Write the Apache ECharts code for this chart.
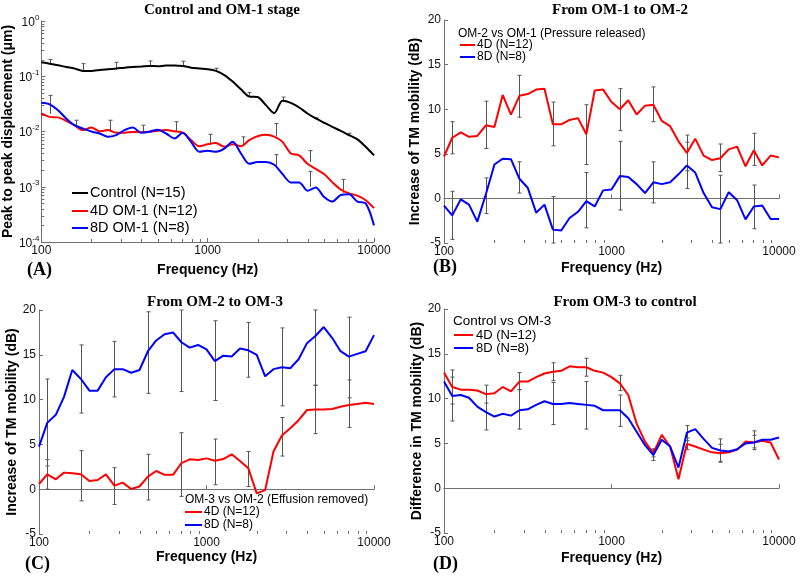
<!DOCTYPE html>
<html><head><meta charset="utf-8">
<script src="https://cdn.jsdelivr.net/npm/echarts@6/dist/echarts.min.js"></script>
<style>html,body{margin:0;padding:0;background:#fff}#c{width:800px;height:577px}</style>
</head><body><div id="c"></div><script>
// ---------- data ----------
const freqs = [100,112,126,141,158,178,200,224,251,282,316,355,398,447,501,562,631,708,794,891,1000,1122,1259,1413,1585,1778,1995,2239,2512,2818,3162,3548,3981,4467,5012,5623,6310,7079,7943,8913,10000];
const xTickLabels = [100, 1000, 10000];
const minorX = [200,300,400,500,600,700,800,900,2000,3000,4000,5000,6000,7000,8000,9000];
const minorYA = [0.0002,0.0003,0.0004,0.0005,0.0006,0.0007,0.0008,0.0009,0.002,0.003,0.004,0.005,0.006,0.007,0.008,0.009,0.02,0.03,0.04,0.05,0.06,0.07,0.08,0.09,0.2,0.3,0.4,0.5,0.6,0.7,0.8,0.9];

// Panel A: peak-to-peak displacement (um)
const aControl = [0.179,0.169,0.158,0.147,0.138,0.125,0.125,0.130,0.134,0.138,0.143,0.147,0.150,0.154,0.152,0.156,0.156,0.154,0.143,0.138,0.134,0.125,0.105,0.080,0.058,0.043,0.042,0.030,0.0215,0.036,0.033,0.0272,0.0212,0.0172,0.0144,0.0121,0.0103,0.0086,0.0072,0.0053,0.0037];
const aRed = [0.0212,0.0184,0.018,0.0156,0.013,0.0106,0.0118,0.0101,0.0106,0.0095,0.0095,0.0098,0.0097,0.0099,0.0103,0.0106,0.0101,0.0095,0.007,0.0054,0.0059,0.0062,0.0053,0.0059,0.0054,0.007,0.0082,0.0087,0.0081,0.0065,0.004,0.0037,0.0026,0.0021,0.0017,0.0012,0.00089,0.00076,0.00069,0.00057,0.00041];
const aBlue = [0.033,0.031,0.0243,0.0172,0.013,0.0113,0.010,0.0092,0.008,0.0086,0.0106,0.0118,0.0095,0.0099,0.0108,0.0092,0.0075,0.0095,0.0065,0.0043,0.0045,0.0043,0.0049,0.0065,0.004,0.0026,0.0028,0.0028,0.0025,0.0017,0.0012,0.0012,0.00085,0.00097,0.00065,0.00054,0.00071,0.00073,0.00054,0.0005,0.0002];
const aErrBlack = [[113,0.168,0.2],[178,0.125,0.169],[282,0.131,0.179],[447,0.154,0.189],[708,0.155,0.187],[1122,0.125,0.14],[1778,0.045,0.0507],[2818,0.036,0.042],[4467,0.0165,0.0177],[7079,0.0087,0.0093]];
const aErrOM = [[113,0.021,0.045],[162,0.012,0.016],[259,0.0098,0.016],[410,0.0097,0.013],[649,0.0098,0.015],[1034,0.0058,0.0089],[1637,0.0055,0.008],[2592,0.0082,0.014],[2592,0.0022,0.0038],[4106,0.0028,0.0045],[4106,0.001,0.0019],[6550,0.00078,0.00136]];

// Panel B: OM-2 vs OM-1 (dB)
const bRed = [4.7,6.8,7.4,6.9,7.0,8.2,8.0,11.6,9.4,11.5,11.7,12.2,12.3,8.3,8.3,8.8,9.0,7.2,12.1,12.2,10.8,10.0,11.0,9.4,10.4,10.5,8.7,8.1,6.4,5.1,6.7,4.8,4.3,4.5,5.5,5.8,3.6,5.4,3.7,4.8,4.6];
const bBlue = [-0.8,-1.9,-0.1,-0.7,-2.6,0.5,3.8,4.45,4.4,2.2,1.2,-1.6,-0.7,-3.5,-3.6,-2.2,-1.5,-0.3,-0.9,0.9,1.0,2.5,2.4,1.6,0.6,1.8,1.6,1.8,2.7,3.7,2.9,0.6,-1.0,-1.2,0.7,-0.2,-2.35,-0.9,-0.8,-2.3,-2.3];
const bErrRed = [[112,5.0,8.6],[178,5.6,10.9],[282,9.1,13.8],[447,5.9,10.8],[708,3.8,10.5],[1122,7.6,12.3],[1778,8.6,12.5],[2818,3.1,7.1],[4467,3.0,6.1],[7079,3.7,7.3]];
const bErrBlue = [[112,-4.6,0.8],[178,-1.7,2.3],[282,0.6,4.1],[447,-5,0.2],[708,-3.3,2.9],[1122,-1.3,6.4],[1778,-0.5,4.1],[2818,1.1,6.3],[4467,-5,2.6],[7079,-3.4,1.5]];

// Panel C: OM-3 vs OM-2 (dB)
const cRed = [0.58,1.66,1.1,1.85,1.77,1.66,0.92,1.03,1.66,0.4,0.73,0.03,0.3,1.4,2.03,1.6,1.6,2.9,3.33,3.26,3.44,3.18,3.37,3.9,3.15,2.33,-0.46,-0.1,4.2,6.0,6.8,7.7,8.84,8.9,8.9,8.95,9.2,9.4,9.5,9.66,9.5];
const cBlue = [4.75,7.4,8.3,10.3,13.3,12.3,11.0,11.0,12.5,13.4,13.4,13.0,13.3,15.4,16.6,17.3,17.5,16.4,15.8,16.1,15.6,14.3,14.9,14.8,15.7,15.5,15.0,12.6,13.4,13.6,13.5,14.5,16.3,17.1,18.1,16.9,15.4,14.8,15.1,15.4,17.2];
const cErrRed = [[112,0,3.3],[178,-1.3,4.3],[282,-1.7,2.4],[447,-1.2,3.9],[708,-0.8,6.3],[1122,0.5,5.6],[1778,0.3,4.2],[2818,3.7,8.0],[4467,6.2,11.6],[7079,6.9,12.2]];
const cErrBlue = [[112,2.6,12.3],[178,8.5,16.1],[282,10.3,16.5],[447,10.7,19.8],[708,10.9,20],[1122,9.9,18.8],[1778,12.5,18.6],[2818,9.3,18.0],[4467,11.6,20],[7079,10.2,19.2]];

// Panel D: Control vs OM-3 (dB)
const dRed = [12.9,11.3,11.0,11.0,10.9,10.5,10.6,11.3,10.8,11.9,11.9,12.4,12.8,13.0,13.1,13.6,13.5,13.5,13.1,12.9,12.4,11.7,10.4,7.2,5.2,3.9,5.95,4.65,1.0,4.95,4.65,4.3,4.0,3.9,4.0,4.3,5.2,5.1,5.3,5.1,3.2];
const dBlue = [11.9,10.3,10.4,10.1,9.1,8.5,8.0,8.3,8.1,8.7,8.8,9.3,9.7,9.4,9.4,9.5,9.4,9.3,9.2,8.7,8.7,8.7,7.8,6.3,4.8,3.7,5.4,4.65,2.3,6.2,6.6,5.5,4.5,4.2,4.1,4.35,5.0,5.1,5.4,5.4,5.65];
const dErrRed = [[112,9.4,12.4],[178,9.5,11.5],[282,11.0,12.9],[447,12.0,14.0],[708,12.5,14.5],[1122,10.9,12.6],[1778,3.5,4.4],[2818,4.3,5.6],[4467,3.0,4.9],[7079,4.3,5.9]];
const dErrBlue = [[112,7.5,13.2],[178,6.5,10.5],[282,6.6,11.0],[447,7.1,11.8],[708,6.6,11.9],[1122,6.9,10.4],[1778,3.1,4.3],[2818,5.3,7.0],[4467,2.9,5.5],[7079,4.5,6.4]];

// ---------- helpers ----------
const RED = '#ff0000', BLUE = '#0000ff', BLACK = '#000000', AX = '#707070', ERR = '#555555';
const SANS = 'Liberation Sans, Arial, sans-serif', SERIF = 'Liberation Serif, Times New Roman, serif';
const pair = vals => freqs.map((f, i) => [f, vals[i]]);

function xAxis(idx, gap) {
  return {
    type: 'log', logBase: 10, gridIndex: idx, min: 100, max: 10000,
    name: 'Frequency (Hz)', nameLocation: 'middle', nameGap: gap,
    nameTextStyle: {fontFamily: SANS, fontWeight: 'bold', fontSize: 14, color: '#000'},
    axisLine: {lineStyle: {color: AX, width: 1}},
    axisTick: {inside: true, length: 4, lineStyle: {color: AX}},
    axisLabel: {fontFamily: SANS, fontSize: 12, color: '#111', margin: 3,
      formatter: v => (xTickLabels.indexOf(Math.round(v)) >= 0 ? String(Math.round(v)) : '')},
    splitLine: {show: false}
  };
}
function yAxisLin(idx, name, gap) {
  return {
    type: 'value', gridIndex: idx, min: -5, max: 20, interval: 5,
    name, nameLocation: 'middle', nameGap: gap,
    nameTextStyle: {fontFamily: SANS, fontWeight: 'bold', fontSize: 14, color: '#000'},
    axisLine: {show: true, lineStyle: {color: AX, width: 1}},
    axisTick: {show: true, inside: true, length: 4, lineStyle: {color: AX}},
    axisLabel: {fontFamily: SANS, fontSize: 12, color: '#111', margin: 3},
    splitLine: {show: false}
  };
}
function lineSeries(idx, data, color, smooth) {
  return {type: 'line', xAxisIndex: idx, yAxisIndex: idx, data: pair(data), showSymbol: false,
    smooth: smooth || false, lineStyle: {color, width: 2}, itemStyle: {color}, z: 5, animation: false, silent: true};
}
function errSeries(idx, data, both) {
  return {type: 'custom', xAxisIndex: idx, yAxisIndex: idx, data, z: 3, silent: true, animation: false,
    encode: {x: 0, y: [1, 2]},
    renderItem: (params, api) => {
      const x = api.value(0), lo = api.value(1), hi = api.value(2);
      const p1 = api.coord([x, lo]), p2 = api.coord([x, hi]);
      const st = {stroke: ERR, lineWidth: 1};
      const cx = Math.round(p1[0]) + 0.5, w = 2;
      const ch = [
        {type: 'line', shape: {x1: cx, y1: p1[1], x2: cx, y2: p2[1]}, style: st},
        {type: 'line', shape: {x1: cx - w, y1: p2[1], x2: cx + w, y2: p2[1]}, style: st}
      ];
      if (both) ch.push({type: 'line', shape: {x1: cx - w, y1: p1[1], x2: cx + w, y2: p1[1]}, style: st});
      return {type: 'group', children: ch};
    }};
}
function tickSeries(idx, yMin, yMinor) {
  return {type: 'custom', xAxisIndex: idx, yAxisIndex: idx, data: [[100, yMin]], z: 2, silent: true, animation: false,
    renderItem: (params, api) => {
      const st = {stroke: AX, lineWidth: 1};
      const ch = [];
      minorX.forEach(f => {
        const p = api.coord([f, yMin]);
        const x = Math.round(p[0]) + 0.5;
        ch.push({type: 'line', shape: {x1: x, y1: p[1], x2: x, y2: p[1] - 3}, style: st});
      });
      (yMinor || []).forEach(v => {
        const p = api.coord([100, v]);
        const y = Math.round(p[1]) + 0.5;
        ch.push({type: 'line', shape: {x1: p[0], y1: y, x2: p[0] + 3, y2: y}, style: st});
      });
      return {type: 'group', children: ch};
    }};
}
function txt(x, y, text, size, opts) {
  return Object.assign({type: 'text', x, y, silent: true, style: Object.assign({text, fontSize: size, fontFamily: SANS,
    fill: '#000', textVerticalAlign: 'middle'}, opts || {})});
}
function legLine(x1, x2, y, color) {
  return {type: 'line', silent: true, shape: {x1, y1: y, x2, y2: y}, style: {stroke: color, lineWidth: 2}};
}

// ---------- option ----------
const option = {
  backgroundColor: '#fff',
  animation: false,
  grid: [
    {left: 40, top: 21, width: 334, height: 221},
    {left: 444, top: 20, width: 335, height: 223},
    {left: 39, top: 310, width: 335, height: 224},
    {left: 444, top: 309, width: 335, height: 224}
  ],
  xAxis: [xAxis(0, 21), xAxis(1, 18), xAxis(2, 16), xAxis(3, 18)],
  yAxis: [
    {type: 'log', logBase: 10, gridIndex: 0, min: 0.0001, max: 1,
      name: 'Peak to peak displacement (\u03bcm)', nameLocation: 'middle', nameGap: 21,
      nameTextStyle: {fontFamily: SANS, fontWeight: 'bold', fontSize: 14, color: '#000'},
      axisLine: {show: true, lineStyle: {color: AX, width: 1}},
      axisTick: {show: true, inside: true, length: 4, lineStyle: {color: AX}},
      axisLabel: {margin: 2, color: '#111',
        formatter: v => '{b|10}{s|' + Math.round(Math.log10(v)) + '}',
        rich: {b: {fontFamily: SANS, fontSize: 12, lineHeight: 15, verticalAlign: 'bottom', color: '#111'},
               s: {fontFamily: SANS, fontSize: 8, lineHeight: 8, verticalAlign: 'top', color: '#111'}}},
      splitLine: {show: false}},
    yAxisLin(1, 'Increase of TM mobility (dB)', 22),
    yAxisLin(2, 'Increase of TM mobility (dB)', 20),
    yAxisLin(3, 'Difference in TM mobility (dB)', 20)
  ],
  series: [
    tickSeries(0, 0.0001, minorYA), tickSeries(1, -5), tickSeries(2, -5), tickSeries(3, -5),
    errSeries(0, aErrBlack, false), errSeries(0, aErrOM, false),
    lineSeries(0, aControl, BLACK, 0.3), lineSeries(0, aRed, RED, 0.3), lineSeries(0, aBlue, BLUE, 0.3),
    errSeries(1, bErrRed, true), errSeries(1, bErrBlue, true),
    lineSeries(1, bRed, RED), lineSeries(1, bBlue, BLUE),
    errSeries(2, cErrRed, true), errSeries(2, cErrBlue, true),
    lineSeries(2, cRed, RED), lineSeries(2, cBlue, BLUE),
    errSeries(3, dErrRed, true), errSeries(3, dErrBlue, true),
    lineSeries(3, dRed, RED), lineSeries(3, dBlue, BLUE)
  ],
  graphic: [
    // titles
    txt(222, 10, 'Control and OM-1 stage', 15, {fontFamily: SERIF, fontWeight: 'bold', textAlign: 'center'}),
    txt(620, 10, 'From OM-1 to OM-2', 15, {fontFamily: SERIF, fontWeight: 'bold', textAlign: 'center'}),
    txt(215, 302, 'From OM-2 to OM-3', 15, {fontFamily: SERIF, fontWeight: 'bold', textAlign: 'center'}),
    txt(625, 302, 'From OM-3 to control', 15, {fontFamily: SERIF, fontWeight: 'bold', textAlign: 'center'}),
    // panel labels
    txt(27, 270, '(A)', 18, {fontFamily: SERIF, fontWeight: 'bold'}),
    txt(433, 267, '(B)', 18, {fontFamily: SERIF, fontWeight: 'bold'}),
    txt(25, 564, '(C)', 18, {fontFamily: SERIF, fontWeight: 'bold'}),
    txt(433, 564, '(D)', 18, {fontFamily: SERIF, fontWeight: 'bold'}),
    // legend A
    legLine(72, 88, 193, BLACK), txt(90, 193, 'Control (N=15)', 14.5),
    legLine(72, 88, 211, RED), txt(90, 211, '4D OM-1 (N=12)', 14.5),
    legLine(72, 88, 228, BLUE), txt(90, 228, '8D OM-1 (N=8)', 14.5),
    // legend B
    txt(458, 34, 'OM-2 vs OM-1 (Pressure released)', 12),
    legLine(460, 475, 45, RED), txt(477, 45, '4D (N=12)', 12),
    legLine(460, 475, 57, BLUE), txt(477, 57, '8D (N=8)', 12),
    // legend C
    txt(185, 500, 'OM-3 vs OM-2 (Effusion removed)', 12),
    legLine(185, 202, 512, RED), txt(204, 512, '4D (N=12)', 12),
    legLine(185, 202, 525, BLUE), txt(204, 525, '8D (N=8)', 12),
    // legend D
    txt(453, 321, 'Control vs OM-3', 13.5),
    legLine(454, 473, 335, RED), txt(476, 335, '4D (N=12)', 13),
    legLine(454, 473, 348, BLUE), txt(476, 348, '8D (N=8)', 13)
  ]
};
const chart = echarts.init(document.getElementById('c'), null, {renderer: 'canvas'});
chart.setOption(option);
</script></body></html>
